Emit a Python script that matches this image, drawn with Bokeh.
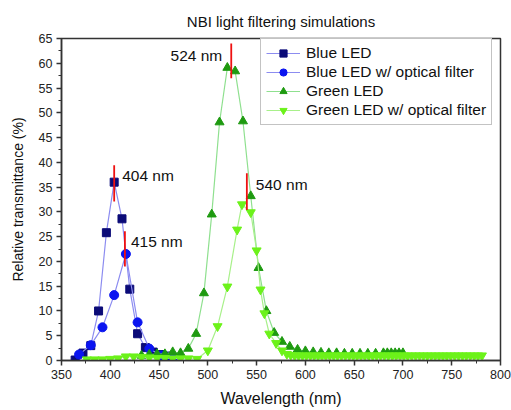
from bokeh.plotting import figure
from bokeh.models import Legend, LegendItem, Label, FixedTicker, Range1d
from bokeh.embed import file_html
from bokeh.resources import INLINE

# ---- data ----
blue_x = [364, 372, 380, 388, 396, 404, 412, 420, 428, 436, 444, 452, 460]
blue_y = [0.1, 1.5, 3.0, 10.0, 25.8, 36.0, 28.6, 14.4, 5.4, 2.6, 1.7, 1.2, 0.9]

bluef_x = [368, 380, 392, 404, 416, 428, 440, 452, 464]
bluef_y = [1.2, 3.1, 6.7, 13.2, 21.5, 7.7, 2.4, 1.0, 0.5]

green_x = [432, 440, 448, 456, 464, 472, 480, 488, 496, 504, 512, 520, 528, 536, 544,
           552, 560, 568, 576, 584, 592, 600, 608, 616, 624, 632, 640, 648, 656, 664,
           672, 680, 684, 688, 692, 696, 700]
green_y = [1.0, 1.2, 1.3, 1.3, 1.7, 1.5, 2.4, 5.4, 13.6, 29.5, 48.1, 59.1, 58.4, 48.3, 33.2,
           18.7, 10.0, 5.6, 3.8, 2.8, 2.2, 1.9, 1.7, 1.6, 1.5, 1.5, 1.4, 1.4, 1.4, 1.4,
           1.4, 1.5, 1.5, 1.5, 1.5, 1.5, 1.5]

greenf_x = [376, 384, 392, 400, 408, 416, 424, 432, 440, 448, 456, 464, 472, 480, 489,
            500, 510, 520, 530, 535, 544, 550, 554, 558, 563, 570, 576, 581,
            585, 589, 593, 597, 601, 605, 609, 613, 617, 621, 625, 629, 633, 637, 641,
            645, 649, 653, 657, 661, 665, 669, 673, 677, 681, 685, 689, 693, 697, 701,
            705, 709, 713, 717, 721, 725, 729, 733, 737, 741, 745, 749, 753, 757, 761,
            765, 769, 773, 777, 781]
greenf_y = [0.2, 0.2, 0.2, 0.3, 0.4, 0.8, 0.8, 0.7, 0.6, 0.5, 0.5, 0.4, 0.4, 0.4, 0.3,
            2.0, 6.9, 14.9, 26.4, 31.5, 29.9, 22.2, 14.3, 9.5, 5.4, 3.5, 2.0, 1.3,
            1.1, 1.0, 1.0, 1.0, 1.0, 1.0, 1.0, 1.0, 1.0, 1.0, 1.0, 1.0, 1.0, 1.0, 1.0,
            1.0, 1.0, 1.0, 1.0, 1.0, 1.0, 1.0, 1.0, 1.0, 1.0, 1.0, 1.0, 1.0, 1.0, 1.0,
            1.0, 1.0, 1.0, 1.0, 1.0, 1.0, 1.0, 1.0, 1.0, 1.0, 1.0, 1.0, 1.0, 1.0, 1.0,
            1.0, 1.0, 1.0, 1.0, 1.0]

peak_nm = [404, 415, 524, 540]
peak_top = [39.4, 26.1, 64.0, 37.8]
peak_bottom = [32.1, 19.0, 57.0, 30.4]
peak_labels = ["404 nm", "415 nm", "524 nm", "540 nm"]

x_ticks = [350, 400, 450, 500, 550, 600, 650, 700, 750, 800]
y_ticks = [0, 5, 10, 15, 20, 25, 30, 35, 40, 45, 50, 55, 60, 65]

FONT = "Liberation Sans"

p = figure(frame_width=439, frame_height=322, output_backend="svg", toolbar_location=None,
           x_range=Range1d(350, 800), y_range=Range1d(0, 65),
           min_border_left=61, min_border_right=11, min_border_top=38, min_border_bottom=50,
           title="NBI light filtering simulations")
p.background_fill_color = "white"
p.border_fill_color = "white"
p.grid.visible = False
p.outline_line_color = "#333333"
p.outline_line_width = 1.5

p.title.align = "center"
p.title.text_font = FONT
p.title.text_font_size = "15px"
p.title.text_font_style = "normal"
p.title.text_color = "#111111"
p.title.standoff = 18

for ax, ticks in ((p.xaxis, x_ticks), (p.yaxis, y_ticks)):
    ax.ticker = FixedTicker(ticks=ticks,
                            minor_ticks=[t + (ticks[1] - ticks[0]) / 2 for t in ticks[:-1]])
    ax.axis_line_color = "#333333"
    ax.axis_line_width = 1.5
    ax.major_tick_line_color = "#333333"
    ax.major_tick_line_width = 1.5
    ax.minor_tick_line_color = "#333333"
    ax.major_tick_out = 5
    ax.major_tick_in = 0
    ax.minor_tick_out = 3
    ax.minor_tick_in = 0
    ax.major_label_text_font = FONT
    ax.major_label_text_font_size = "12.5px"
    ax.major_label_text_color = "#222222"
    ax.axis_label_text_font = FONT
    ax.axis_label_text_font_style = "normal"
    ax.axis_label_text_color = "#111111"

p.xaxis.axis_label = "Wavelength (nm)"
p.yaxis.axis_label = "Relative transmittance (%)"
p.xaxis.axis_label_text_font_size = "16px"
p.yaxis.axis_label_text_font_size = "14px"
p.xaxis.axis_label_standoff = 8
p.yaxis.axis_label_standoff = 10
p.xaxis.major_label_standoff = 4
p.yaxis.major_label_standoff = 4

series = [
    ("Blue LED", blue_x, blue_y, "square", "#0b0b78", "#8c8cf0", 8),
    ("Blue LED w/ optical filter", bluef_x, bluef_y, "circle", "#0a14f0", "#8c8cf0", 9),
    ("Green LED", green_x, green_y, "triangle", "#1e9a10", "#8fe08f", 9),
    ("Green LED w/ optical filter", greenf_x, greenf_y, "inverted_triangle", "#6cf21a", "#a8f08a", 9),
]

items = []
for name, xs, ys, marker, mcol, lcol, size in series:
    lr = p.line(xs, ys, line_color=lcol, line_width=1.2)
    sr = p.scatter(xs, ys, marker=marker, size=size, fill_color=mcol, line_color=mcol)
    items.append(LegendItem(label=name, renderers=[lr, sr]))

# red peak markers
p.segment(x0=peak_nm, y0=peak_bottom, x1=peak_nm, y1=peak_top, line_color="#ee1111", line_width=1.8)

offsets = [(8, 0, "left"), (6, 0, "left"), (-9, 0, "right"), (9, 0, "left")]
label_y = [37.3, 24.0, 61.6, 35.5]
for nm, txt, ly, (dx, dy, align) in zip(peak_nm, peak_labels, label_y, offsets):
    p.add_layout(Label(x=nm, y=ly, text=txt, x_offset=dx, y_offset=dy,
                       text_align=align, text_baseline="middle",
                       text_font=FONT, text_font_size="15.5px", text_color="#111111"))

legend = Legend(items=items, location=(199, 235), orientation="vertical")
legend.label_text_font = FONT
legend.label_text_font_size = "15.5px"
legend.label_text_color = "#111111"
legend.glyph_width = 34
legend.glyph_height = 18
legend.label_height = 18
legend.spacing = 1
legend.padding = 5
legend.margin = 0
legend.label_standoff = 6
legend.border_line_color = "#888888"
legend.border_line_width = 1.5
legend.background_fill_alpha = 1.0
p.add_layout(legend, "center")

open("out.html", "w").write(file_html(p, INLINE))
